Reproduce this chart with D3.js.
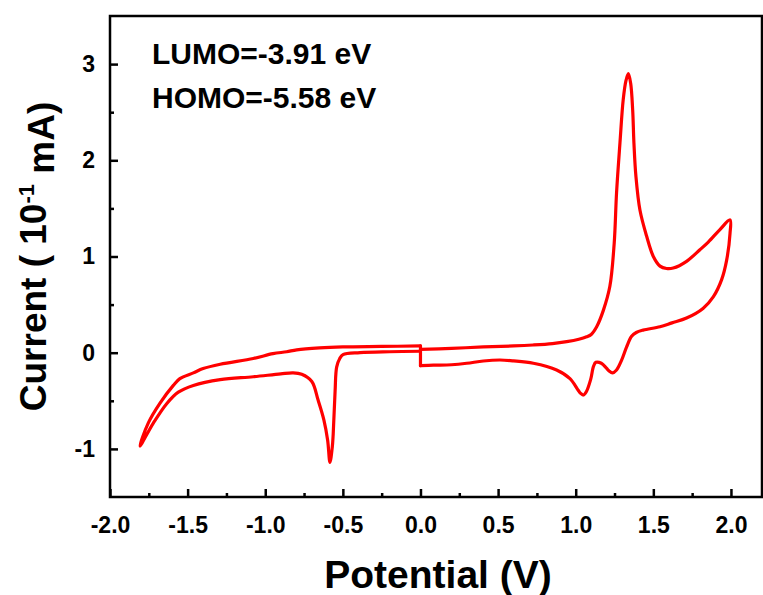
<!DOCTYPE html>
<html>
<head>
<meta charset="utf-8">
<script src="https://cdn.jsdelivr.net/npm/d3@7"></script>
<style>
  body { margin: 0; background: #fff; }
  svg text { font-family: "Liberation Sans", Arial, sans-serif; font-weight: bold; fill: #000; }
</style>
</head>
<body>
<svg id="viz" width="763" height="595"></svg>
<script>
// Cyclic voltammogram, one continuous trace (V, 10^-1 mA)
const potential = [
  0.00, 0.20, 0.405, 0.60, 0.725, 0.85, 0.942, 1.02, 1.07, 1.10, 1.135, 1.178, 1.22, 1.248, 1.263, 1.285,
  1.306, 1.324, 1.339, 1.354, 1.367, 1.375, 1.388, 1.414, 1.457, 1.50, 1.543, 1.585, 1.628, 1.714, 1.80,
  1.854, 1.929, 1.994,
  1.994, 1.972, 1.94, 1.886, 1.82, 1.714, 1.62, 1.543, 1.435, 1.39, 1.36, 1.328, 1.295, 1.263, 1.237,
  1.215, 1.198, 1.165, 1.13, 1.115, 1.096, 1.07, 1.049, 1.03, 1.016, 0.963, 0.877, 0.727, 0.60, 0.512,
  0.405, 0.298, 0.20, 0.083, 0.00,
  0.00, -0.25, -0.50, -0.65, -0.797, -0.862, -0.95, -1.077, -1.29, -1.40, -1.463, -1.55, -1.592, -1.68,
  -1.753, -1.807,
  -1.72, -1.635, -1.56, -1.463, -1.29, -1.077, -0.90, -0.82, -0.765, -0.70, -0.66, -0.622, -0.598,
  -0.583, -0.568, -0.562, -0.55, -0.54, -0.52, -0.499, -0.39, -0.20, 0.00
];
const current = [
  0.035, 0.045, 0.06, 0.07, 0.08, 0.095, 0.115, 0.14, 0.165, 0.19, 0.27, 0.44, 0.69, 1.14, 1.66, 2.18,
  2.63, 2.83, 2.90, 2.80, 2.52, 2.18, 1.83, 1.48, 1.21, 1.00, 0.90, 0.875, 0.88, 0.95, 1.07,
  1.15, 1.28, 1.38,
  1.24, 0.96, 0.76, 0.58, 0.46, 0.36, 0.31, 0.27, 0.235, 0.21, 0.17, 0.06, -0.08, -0.18, -0.21,
  -0.19, -0.16, -0.11, -0.10, -0.14, -0.28, -0.40, -0.44, -0.42, -0.39, -0.27, -0.18, -0.11, -0.085, -0.076,
  -0.086, -0.11, -0.125, -0.13, -0.135,
  0.07, 0.065, 0.06, 0.05, 0.03, 0.01, -0.01, -0.06, -0.12, -0.165, -0.21, -0.27, -0.34, -0.53,
  -0.73, -0.97,
  -0.73, -0.53, -0.41, -0.34, -0.28, -0.25, -0.22, -0.21, -0.225, -0.30, -0.49, -0.70, -0.91,
  -1.14, -0.98, -0.84, -0.40, -0.15, -0.06, -0.02, 0.00, 0.01, 0.015
];
// index where the trace jumps vertically at 0 V (sharp step, not smoothed)
const STEP = 68;

const xMajor = [-2.0, -1.5, -1.0, -0.5, 0.0, 0.5, 1.0, 1.5, 2.0];
const xMinor = [-1.75, -1.25, -0.75, -0.25, 0.25, 0.75, 1.25, 1.75];
const yMajor = [-1, 0, 1, 2, 3];
const yMinor = [-0.5, 0.5, 1.5, 2.5];
const notes = ["LUMO=-3.91 eV", "HOMO=-5.58 eV"];

const W = 763, H = 595, M = {t:16, r:1, b:98, l:110};
const innerW = W - M.l - M.r, innerH = H - M.t - M.b;

const svg = d3.select("#viz");
const g = svg.append("g").attr("transform", `translate(${M.l},${M.t})`);

const x = d3.scaleLinear().domain([-2, 2.2]).range([0, innerW]);
const y = d3.scaleLinear().domain([-1.5, 3.5]).range([innerH, 0]);

// plain hyphen for negatives, like the original
const fx = d => d.toFixed(1);
const fy = d => String(d);

// axes, ticks pointing inward
g.append("g").attr("transform", `translate(0,${innerH})`)
  .call(d3.axisBottom(x).tickValues(xMajor).tickFormat(fx)
    .tickSizeInner(-8).tickSizeOuter(0).tickPadding(20));
g.append("g").attr("transform", `translate(0,${innerH})`)
  .call(d3.axisBottom(x).tickValues(xMinor).tickFormat("").tickSizeInner(-4).tickSizeOuter(0));

g.append("g")
  .call(d3.axisLeft(y).tickValues(yMajor).tickFormat(fy)
    .tickSizeInner(-8).tickSizeOuter(0).tickPadding(15));
g.append("g")
  .call(d3.axisLeft(y).tickValues(yMinor).tickFormat("").tickSizeInner(-4).tickSizeOuter(0));

g.selectAll(".domain").remove();
g.selectAll(".tick line").attr("stroke", "#000").attr("stroke-width", 2.5);
g.selectAll(".tick text").style("font-size", "23px").style("font-family", "Liberation Sans, Arial, sans-serif")
  .style("font-weight", "bold");

// frame
g.append("rect").attr("width", innerW).attr("height", innerH)
  .attr("fill", "none").attr("stroke", "#000").attr("stroke-width", 2.5);

// CV trace: smooth pieces, straight step between them
const pts = potential.map((v, i) => [v, current[i]]);
const smooth = d3.line().x(d => x(d[0])).y(d => y(d[1])).curve(d3.curveCatmullRom.alpha(0.5));
const straight = d3.line().x(d => x(d[0])).y(d => y(d[1]));
const pieces = [
  {d: pts.slice(0, STEP + 1), gen: smooth},
  {d: pts.slice(STEP, STEP + 2), gen: straight},
  {d: pts.slice(STEP + 1), gen: smooth}
];
g.selectAll("path.cv").data(pieces).join("path")
  .attr("class", "cv")
  .attr("d", p => p.gen(p.d))
  .attr("fill", "none").attr("stroke", "#ff0000")
  .attr("stroke-width", 3.2).attr("stroke-linejoin", "round").attr("stroke-linecap", "round");

// annotations
g.selectAll("text.note").data(notes).join("text")
  .attr("class", "note")
  .attr("x", 42).attr("y", (d, i) => 48 + i * 44)
  .style("font-size", "30px")
  .text(d => d);

// axis titles
svg.append("text")
  .attr("x", M.l + innerW / 2 + 2).attr("y", 588)
  .attr("text-anchor", "middle").style("font-size", "39px")
  .text("Potential (V)");

const yt = svg.append("text")
  .attr("transform", `translate(46,${M.t + innerH / 2}) rotate(-90)`)
  .attr("text-anchor", "middle").style("font-size", "37px");
yt.append("tspan").text("Current ( 10");
yt.append("tspan").attr("dy", "-0.55em").style("font-size", "22px").text("-1");
yt.append("tspan").attr("dy", "0.55em").text(" mA)");
</script>
</body>
</html>
